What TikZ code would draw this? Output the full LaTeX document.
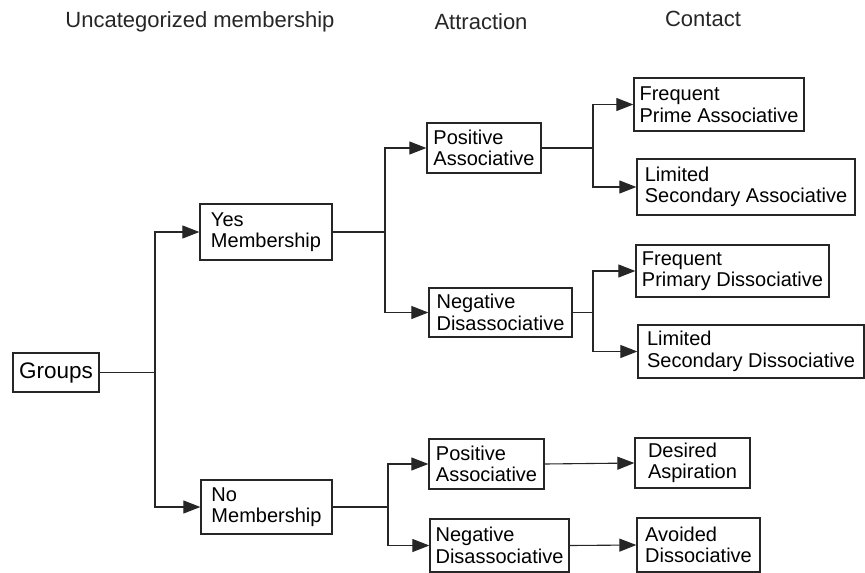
\documentclass[tikz,border=0pt]{standalone}
\usepackage{fontspec}
\setmainfont{Liberation Sans}
\usetikzlibrary{arrows.meta}
\begin{document}
\begin{tikzpicture}[x=1pt,y=-1pt,
  box/.style={draw=black!85, line width=1.3pt, align=left, inner sep=0pt,
    font=\fontsize{20}{21.5}\selectfont},
  title/.style={font=\fontsize{22}{24}\selectfont, text=black!85},
  conn/.style={draw=black!85, line width=1.1pt},
  arr/.style={conn, -{Triangle[length=17pt,width=13pt]}}]
\useasboundingbox (0,0) rectangle (865,573);
% titles
\node[title] (t1) at (200,22) {Uncategorized membership};
\node[title] (t2) at (481,22) {Attraction};
\node[title] (t3) at (703,19) {Contact};
% boxes
\node[box, minimum width=86pt, minimum height=39pt, font=\fontsize{22.5}{24}\selectfont] (groups) at (56,372.5) {Groups};
\node[box, minimum width=132pt, minimum height=56pt] (yes) at (266,232) {Yes\\Membership};
\node[box, minimum width=131pt, minimum height=54pt] (no) at (266.5,507) {No\\Membership};
\node[box, minimum width=114pt, minimum height=50pt] (pa1) at (484,148) {Positive\\Associative};
\node[box, minimum width=143pt, minimum height=49pt] (nd1) at (500.5,312.5) {Negative\\Disassociative};
\node[box, minimum width=115pt, minimum height=50pt] (pa2) at (486.5,464) {Positive\\Associative};
\node[box, minimum width=139pt, minimum height=53pt] (nd2) at (499.5,545.5) {Negative\\Disassociative};
\node[box, minimum width=170pt, minimum height=53pt] (fpa) at (719,104.5) {Frequent\\Prime Associative};
\node[box, minimum width=218pt, minimum height=56pt] (lsa) at (746,187) {Limited\\Secondary Associative};
\node[box, minimum width=193pt, minimum height=52pt] (fpd) at (732.5,271) {Frequent\\Primary Dissociative};
\node[box, minimum width=226pt, minimum height=53pt] (lsd) at (751,351.5) {Limited\\Secondary Dissociative};
\node[box, minimum width=115pt, minimum height=50pt] (da) at (692.5,463) {Desired\\Aspiration};
\node[box, minimum width=123pt, minimum height=54pt] (ad) at (698.5,545) {Avoided\\Dissociative};
% junctions
\coordinate (j0) at (155,372.5);
\coordinate (j1) at (385,232);
\coordinate (j2) at (388,507);
\coordinate (j3) at (593,148);
\coordinate (j4) at (593,312.5);
% connectors
\draw[conn] (groups.east) -- (j0);
\draw[arr] (j0) |- (yes.west);
\draw[arr] (j0) |- (no.west);
\draw[conn] (yes.east) -- (j1);
\draw[arr] (j1) |- (pa1.west);
\draw[arr] (j1) |- (nd1.west);
\draw[conn] (no.east) -- (j2);
\draw[arr] (j2) |- (pa2.west);
\draw[arr] (j2) |- (nd2.west);
\draw[conn] (pa1.east) -- (j3);
\draw[arr] (j3) |- (fpa.west);
\draw[arr] (j3) |- (lsa.west);
\draw[conn] (nd1.east) -- (j4);
\draw[arr] (j4) |- (fpd.west);
\draw[arr] (j4) |- (lsd.west);
\draw[arr] (pa2.east) -- (da.west);
\draw[arr] (nd2.east) -- (ad.west);
\end{tikzpicture}
\end{document}
